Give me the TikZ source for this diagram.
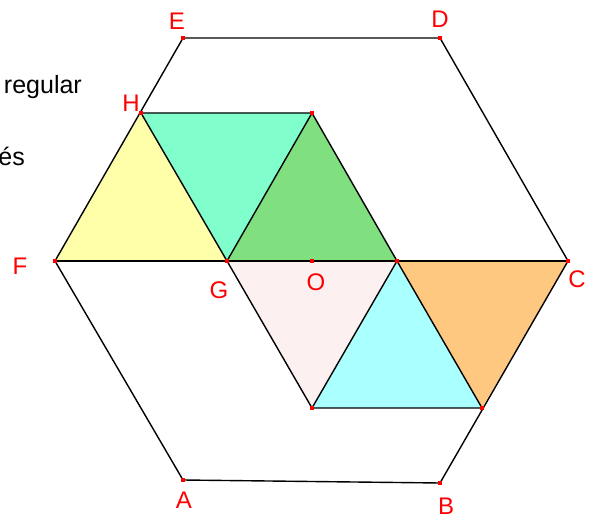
\documentclass[tikz,border=0pt]{standalone}
\usepackage{fontspec}
\setmainfont{Liberation Sans}
\usepackage{xcolor}
\usetikzlibrary{positioning, calc}

\definecolor{yel}{HTML}{FFFFAA}
\definecolor{aqua}{HTML}{80FFCC}
\definecolor{grn}{HTML}{80E080}
\definecolor{pnk}{HTML}{FDF0F0}
\definecolor{cyn}{HTML}{AAFFFF}
\definecolor{org}{HTML}{FFC880}

\begin{document}
\begin{tikzpicture}[x=1pt, y=-1pt,
    edge/.style={line width=1.4pt, black},
    pt/.style={rectangle, fill=red, minimum size=4pt, inner sep=0pt},
    lbl/.style={text=red, font=\fontsize{24}{24}\selectfont, inner sep=0pt},
    txt/.style={text=black, font=\fontsize{25}{25}\selectfont, inner sep=0pt, anchor=base east}]
    \useasboundingbox (0,0) rectangle (589,518);
    % hexagon corners
    \coordinate (A) at (183,480);
    \coordinate (B) at (440,483);
    \coordinate (C) at (568,261);
    \coordinate (D) at (440,38);
    \coordinate (E) at (183,38);
    \coordinate (F) at (55,261);
    \coordinate (O) at (312,261);
    \coordinate (G) at (227,261);
    \coordinate (H) at (141,113);
    % other triangle corners
    \coordinate (I) at (312,113);
    \coordinate (P) at (397,261);
    \coordinate (K) at (312,408);
    \coordinate (L) at (482,408);
    % cut-off text on the left
    \node[txt] (t1) at (82,94) {regular};
    \node[txt] (t2) at (25,166) {és};
    % coloured triangles
    \fill[yel] (H) -- (F) -- (G) -- cycle;
    \fill[aqua] (H) -- (I) -- (G) -- cycle;
    \fill[grn] (I) -- (G) -- (P) -- cycle;
    \fill[pnk] (G) -- (P) -- (K) -- cycle;
    \fill[cyn] (P) -- (K) -- (L) -- cycle;
    \fill[org] (P) -- (C) -- (L) -- cycle;
    % hexagon and lines
    \draw[edge] (A) -- (B) -- (C) -- (D) -- (E) -- (F) -- cycle;
    \draw[edge] (F) -- (C);
    \draw[edge] (G) -- (H) -- (I) -- (G);
    \draw[edge] (I) -- (P);
    \draw[edge] (G) -- (K) -- (P) -- (L) -- (K);
    % points
    \foreach \p in {A,B,C,D,E,F,O,G,H,I,K,L,P}
        \node[pt] (m\p) at (\p) {};
    % labels
    \node[lbl] (lA) at (184,500) {A};
    \node[lbl] (lB) at (446,506) {B};
    \node[lbl] (lC) at (577,279) {C};
    \node[lbl] (lD) at (440,19) {D};
    \node[lbl] (lE) at (177,21) {E};
    \node[lbl] (lF) at (20,266) {F};
    \node[lbl] (lG) at (219,290) {G};
    \node[lbl] (lH) at (131,103) {H};
    \node[lbl] (lO) at (316,282) {O};
\end{tikzpicture}
\end{document}
